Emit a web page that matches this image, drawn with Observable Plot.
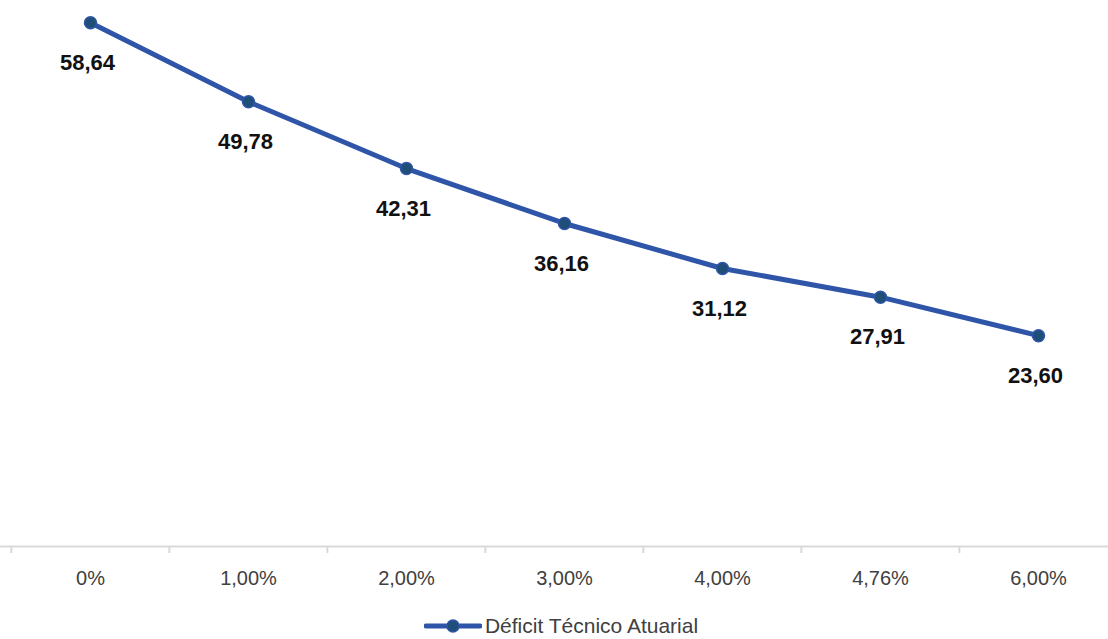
<!DOCTYPE html>
<html>
<head>
<meta charset="utf-8">
<script src="https://cdn.jsdelivr.net/npm/d3@7"></script>
<script src="https://cdn.jsdelivr.net/npm/@observablehq/plot@0.6"></script>
<style>
  body { margin: 0; background: #fff; font-family: "Liberation Sans", Arial, sans-serif; overflow: hidden; }
  #chart { width: 1108px; }
  .legend { height: 26px; margin-top: 13px; display: flex; align-items: center; justify-content: center; padding-left: 14px;
            font-size: 21px; line-height: 26px; color: #404040; }
  .legend svg { margin-right: 3px; }
</style>
</head>
<body>
<div id="chart"></div>
<script>
const categories = ["0%", "1,00%", "2,00%", "3,00%", "4,00%", "4,76%", "6,00%"];
const values = [58.64, 49.78, 42.31, 36.16, 31.12, 27.91, 23.60];
const seriesName = "Déficit Técnico Atuarial";

const data = categories.map((c, i) => ({cat: c, value: values[i]}));
const fmt = v => v.toFixed(2).replace(".", ",");

const xRange = [10, 1118];
const bw = (xRange[1] - xRange[0]) / categories.length;
const lineColor = "#2f55a8";
const dotFill = "#1f4e79";

const plot = Plot.plot({
  width: 1108,
  height: 600,
  marginTop: 0, marginBottom: 0, marginLeft: 0, marginRight: 0,
  style: {fontFamily: "Liberation Sans, Arial, sans-serif", background: "#fff"},
  x: {type: "band", domain: categories, range: xRange, padding: 0, axis: null},
  y: {domain: [0, 60], range: [546, 10], axis: null},
  marks: [
    Plot.ruleY([0], {stroke: "#d9d9d9", strokeWidth: 2}),
    Plot.ruleX(categories, {x: d => d, dx: -bw / 2, y1: 0, y2: 0, insetBottom: -7, stroke: "#d9d9d9", strokeWidth: 2}),
    Plot.text(categories, {x: d => d, y: 0, dy: 32, text: d => d, fontSize: 20, fill: "#404040"}),
    Plot.line(data, {x: "cat", y: "value", stroke: lineColor, strokeWidth: 5, strokeLinejoin: "round"}),
    Plot.dot(data, {x: "cat", y: "value", r: 6, fill: dotFill, stroke: lineColor, strokeWidth: 1.5}),
    Plot.text(data, {x: "cat", y: "value", text: d => fmt(d.value), dy: 40, dx: -3, fontSize: 22, fontWeight: "bold", fill: "#111"})
  ]
});
document.getElementById("chart").appendChild(plot);

const legend = document.createElement("div");
legend.className = "legend";
legend.innerHTML = `<svg width="58" height="16"><line x1="2" y1="8" x2="56" y2="8" stroke="${lineColor}" stroke-width="5" stroke-linecap="round"/><circle cx="29" cy="8" r="6" fill="${dotFill}" stroke="${lineColor}" stroke-width="1.5"/></svg><span>${seriesName}</span>`;
document.getElementById("chart").appendChild(legend);
</script>
</body>
</html>
